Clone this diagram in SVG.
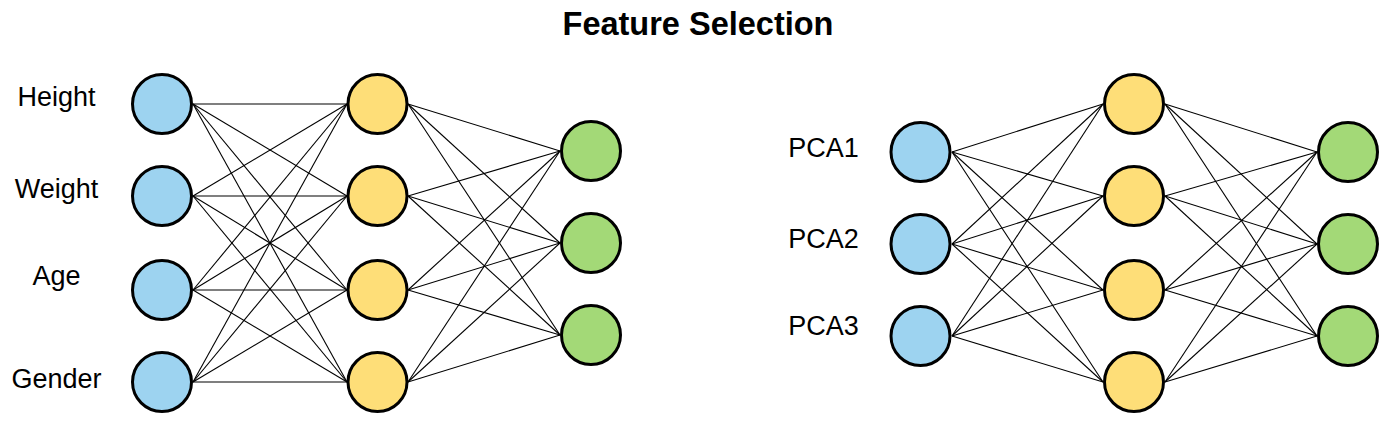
<svg xmlns="http://www.w3.org/2000/svg" width="1400" height="435" viewBox="0 0 1400 435">
<style>
.n{stroke:#000;stroke-width:3}
.b{fill:#9dd3f0}
.y{fill:#fede78}
.g{fill:#a3d977}
.lbl{font-family:"Liberation Sans",Arial,sans-serif;font-size:27px;fill:#000;text-anchor:middle}
.title{font-family:"Liberation Sans",Arial,sans-serif;font-size:32.5px;font-weight:bold;fill:#000;text-anchor:middle}
#connectors line{stroke:#000;stroke-width:1.1}
</style>
<rect width="1400" height="435" fill="#fff"/>
<text class="title" x="698" y="35">Feature Selection</text>
<g id="connectors">
<line x1="193" y1="104" x2="347" y2="104"/><line x1="193" y1="104" x2="347" y2="196"/><line x1="193" y1="104" x2="347" y2="290"/><line x1="193" y1="104" x2="347" y2="382"/>
<line x1="193" y1="196" x2="347" y2="104"/><line x1="193" y1="196" x2="347" y2="196"/><line x1="193" y1="196" x2="347" y2="290"/><line x1="193" y1="196" x2="347" y2="382"/>
<line x1="193" y1="290" x2="347" y2="104"/><line x1="193" y1="290" x2="347" y2="196"/><line x1="193" y1="290" x2="347" y2="290"/><line x1="193" y1="290" x2="347" y2="382"/>
<line x1="193" y1="382" x2="347" y2="104"/><line x1="193" y1="382" x2="347" y2="196"/><line x1="193" y1="382" x2="347" y2="290"/><line x1="193" y1="382" x2="347" y2="382"/>
<line x1="408" y1="104" x2="560" y2="151"/><line x1="408" y1="104" x2="560" y2="243"/><line x1="408" y1="104" x2="560" y2="335"/>
<line x1="408" y1="196" x2="560" y2="151"/><line x1="408" y1="196" x2="560" y2="243"/><line x1="408" y1="196" x2="560" y2="335"/>
<line x1="408" y1="290" x2="560" y2="151"/><line x1="408" y1="290" x2="560" y2="243"/><line x1="408" y1="290" x2="560" y2="335"/>
<line x1="408" y1="382" x2="560" y2="151"/><line x1="408" y1="382" x2="560" y2="243"/><line x1="408" y1="382" x2="560" y2="335"/>
<line x1="952" y1="152" x2="1103" y2="104"/><line x1="952" y1="152" x2="1103" y2="196"/><line x1="952" y1="152" x2="1103" y2="290"/><line x1="952" y1="152" x2="1103" y2="382"/>
<line x1="952" y1="244" x2="1103" y2="104"/><line x1="952" y1="244" x2="1103" y2="196"/><line x1="952" y1="244" x2="1103" y2="290"/><line x1="952" y1="244" x2="1103" y2="382"/>
<line x1="952" y1="336" x2="1103" y2="104"/><line x1="952" y1="336" x2="1103" y2="196"/><line x1="952" y1="336" x2="1103" y2="290"/><line x1="952" y1="336" x2="1103" y2="382"/>
<line x1="1165" y1="104" x2="1317" y2="152"/><line x1="1165" y1="104" x2="1317" y2="244"/><line x1="1165" y1="104" x2="1317" y2="336"/>
<line x1="1165" y1="196" x2="1317" y2="152"/><line x1="1165" y1="196" x2="1317" y2="244"/><line x1="1165" y1="196" x2="1317" y2="336"/>
<line x1="1165" y1="290" x2="1317" y2="152"/><line x1="1165" y1="290" x2="1317" y2="244"/><line x1="1165" y1="290" x2="1317" y2="336"/>
<line x1="1165" y1="382" x2="1317" y2="152"/><line x1="1165" y1="382" x2="1317" y2="244"/><line x1="1165" y1="382" x2="1317" y2="336"/>
</g>
<g id="in-height"><text class="lbl" x="56.5" y="106">Height</text><circle class="n b" cx="162" cy="104" r="29.5"/></g>
<g id="in-weight"><text class="lbl" x="56.5" y="198">Weight</text><circle class="n b" cx="162" cy="196" r="29.5"/></g>
<g id="in-age"><text class="lbl" x="56.5" y="285">Age</text><circle class="n b" cx="162" cy="290" r="29.5"/></g>
<g id="in-gender"><text class="lbl" x="56.5" y="388">Gender</text><circle class="n b" cx="162" cy="382" r="29.5"/></g>
<g id="l-h1"><circle class="n y" cx="377.5" cy="104" r="29.5"/></g>
<g id="l-h2"><circle class="n y" cx="377.5" cy="196" r="29.5"/></g>
<g id="l-h3"><circle class="n y" cx="377.5" cy="290" r="29.5"/></g>
<g id="l-h4"><circle class="n y" cx="377.5" cy="382" r="29.5"/></g>
<g id="l-o1"><circle class="n g" cx="591" cy="151" r="29.5"/></g>
<g id="l-o2"><circle class="n g" cx="591" cy="243" r="29.5"/></g>
<g id="l-o3"><circle class="n g" cx="591" cy="335" r="29.5"/></g>
<g id="in-pca1"><text class="lbl" x="823.5" y="157">PCA1</text><circle class="n b" cx="920.5" cy="152" r="29.5"/></g>
<g id="in-pca2"><text class="lbl" x="823.5" y="248">PCA2</text><circle class="n b" cx="920.5" cy="244" r="29.5"/></g>
<g id="in-pca3"><text class="lbl" x="823.5" y="335">PCA3</text><circle class="n b" cx="920.5" cy="336" r="29.5"/></g>
<g id="r-h1"><circle class="n y" cx="1134" cy="104" r="29.5"/></g>
<g id="r-h2"><circle class="n y" cx="1134" cy="196" r="29.5"/></g>
<g id="r-h3"><circle class="n y" cx="1134" cy="290" r="29.5"/></g>
<g id="r-h4"><circle class="n y" cx="1134" cy="382" r="29.5"/></g>
<g id="r-o1"><circle class="n g" cx="1348" cy="152" r="29.5"/></g>
<g id="r-o2"><circle class="n g" cx="1348" cy="244" r="29.5"/></g>
<g id="r-o3"><circle class="n g" cx="1348" cy="336" r="29.5"/></g>
</svg>
